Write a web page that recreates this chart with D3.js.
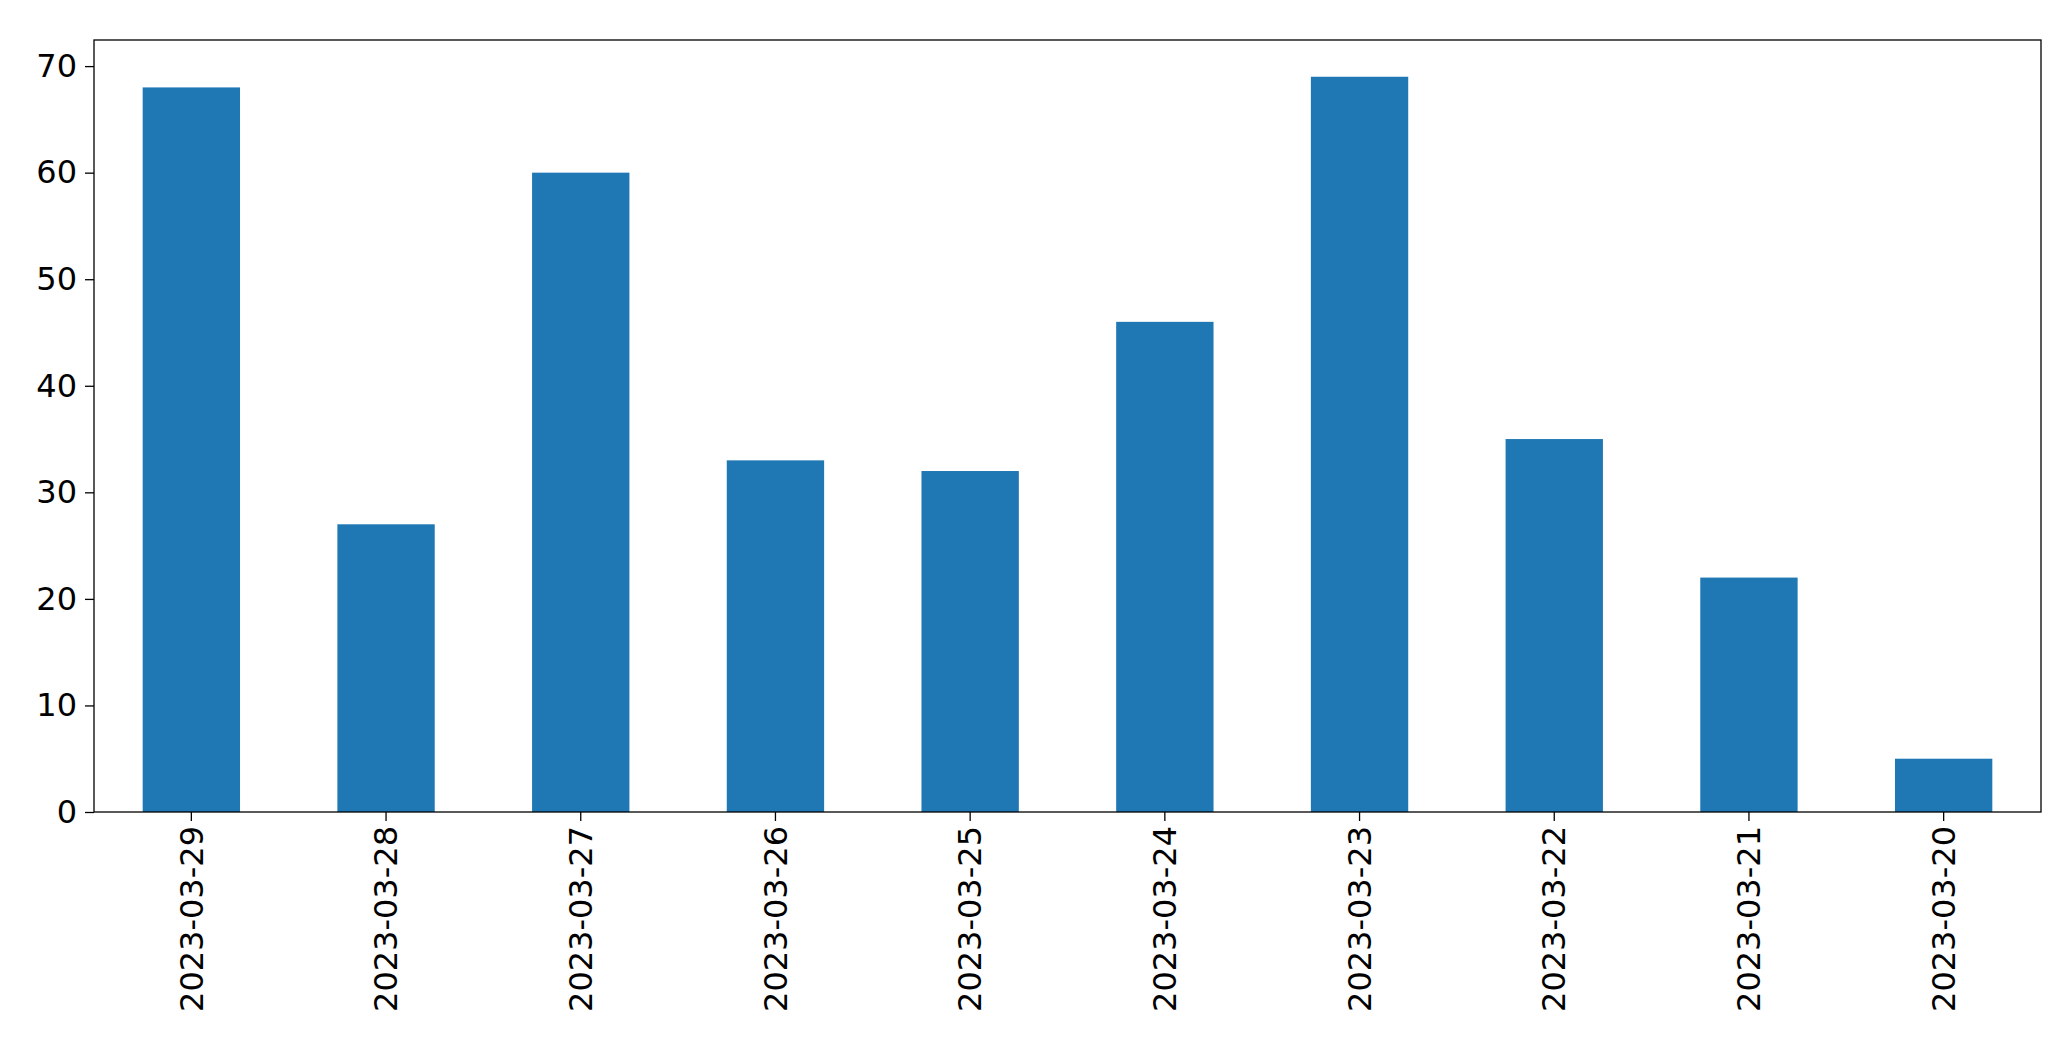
<!DOCTYPE html>
<html>
<head>
<meta charset="utf-8">
<script src="https://cdn.jsdelivr.net/npm/d3@7.8.5/dist/d3.min.js"></script>
<style>
  body { margin: 0; background: #fff; }
  text { font-family: "DejaVu Sans", sans-serif; }
</style>
</head>
<body>
<div id="chart"></div>
<script>
const dates = ["2023-03-29", "2023-03-28", "2023-03-27", "2023-03-26", "2023-03-25",
  "2023-03-24", "2023-03-23", "2023-03-22", "2023-03-21", "2023-03-20"];
const counts = [68, 27, 60, 33, 32, 46, 69, 35, 22, 5];
const yTicks = [0, 10, 20, 30, 40, 50, 60, 70];

const width = 2071, height = 1061;
const margin = { top: 40, right: 30, bottom: 249, left: 94 };

const svg = d3.select("#chart").append("svg")
  .attr("width", width).attr("height", height);

const x = d3.scaleBand()
  .domain(dates)
  .range([margin.left, width - margin.right])
  .paddingInner(0.5).paddingOuter(0.25);

const y = d3.scaleLinear()
  .domain([0, d3.max(counts) * 1.05])
  .range([height - margin.bottom, margin.top]);

svg.append("g")
  .selectAll("rect")
  .data(counts)
  .join("rect")
  .attr("x", (d, i) => x(dates[i]))
  .attr("y", d => y(d))
  .attr("width", x.bandwidth())
  .attr("height", d => y(0) - y(d))
  .attr("fill", "#1f77b4");

const xAxis = svg.append("g")
  .attr("transform", `translate(0,${height - margin.bottom})`)
  .call(d3.axisBottom(x).tickSize(9).tickPadding(8));
xAxis.selectAll(".tick text")
  .attr("transform", "rotate(-90)")
  .attr("text-anchor", "end")
  .attr("x", -14).attr("y", 0).attr("dy", "0.35em")
  .style("font-size", "32px");

const yAxis = svg.append("g")
  .attr("transform", `translate(${margin.left},0)`)
  .call(d3.axisLeft(y).tickValues(yTicks).tickSize(9).tickPadding(8));
yAxis.selectAll(".tick text").style("font-size", "32px");

svg.selectAll(".domain").remove();
svg.selectAll(".tick line").attr("stroke", "#000").attr("stroke-width", 1.3);

svg.append("rect")
  .attr("x", margin.left).attr("y", margin.top)
  .attr("width", width - margin.left - margin.right)
  .attr("height", height - margin.top - margin.bottom)
  .attr("fill", "none").attr("stroke", "#000").attr("stroke-width", 1.3);
</script>
</body>
</html>
